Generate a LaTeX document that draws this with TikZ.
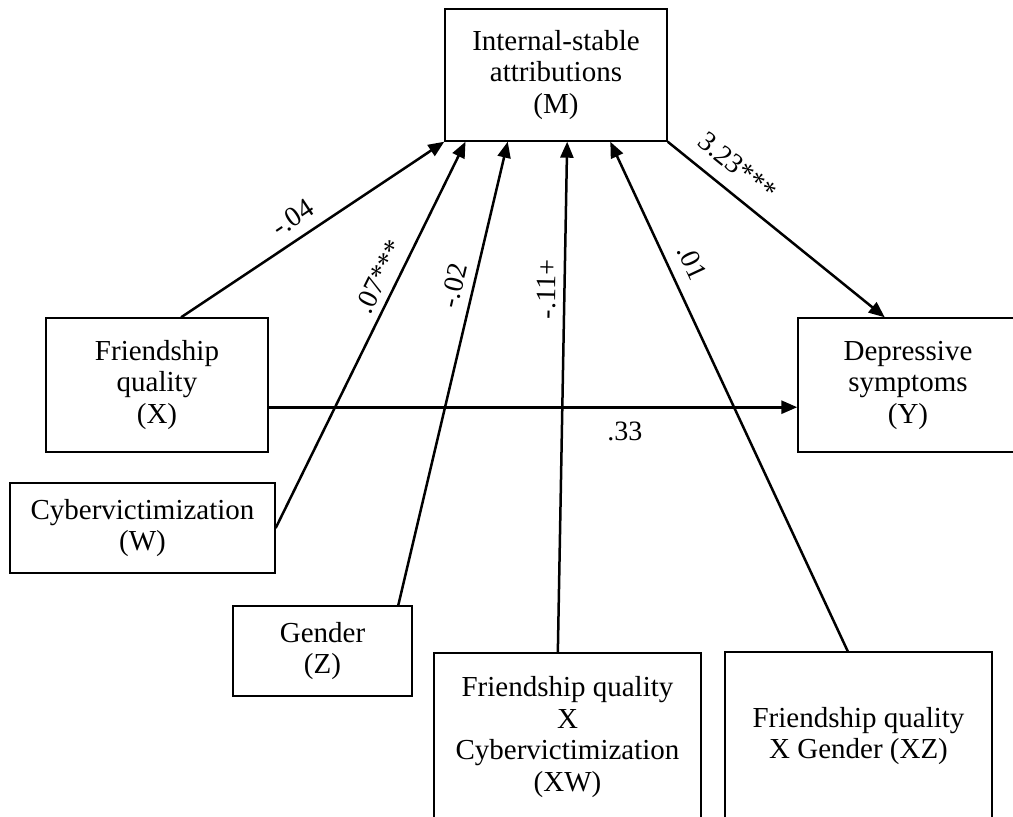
\documentclass[tikz,border=0pt]{standalone}
\usepackage{fontspec}
\setmainfont{Liberation Serif}
\usetikzlibrary{arrows.meta,calc}
\begin{document}
\begin{tikzpicture}[x=1pt,y=-1pt,
  box/.style={draw, line width=1.4pt, rectangle, inner sep=0pt, align=center,
    font=\fontsize{29}{31.5}\selectfont},
  effect/.style={line width=2.5pt, -{Triangle[length=16pt,width=13pt]}},
  coef/.style={font=\fontsize{28}{30}\selectfont, inner sep=0pt, sloped}
]
\useasboundingbox (0,0) rectangle (1013,817);
\clip (0,0) rectangle (1013,817);

% variables
\node[box, minimum width=222pt, minimum height=132pt] (M) at (556,75)
  {Internal-stable\\attributions\\(M)};
\node[box, minimum width=222pt, minimum height=134pt] (X) at (157,385)
  {Friendship\\quality\\(X)};
\node[box, minimum width=220pt, minimum height=134pt] (Y) at (908,385)
  {Depressive\\symptoms\\(Y)};
\node[box, minimum width=265pt, minimum height=90pt] (W) at (142.5,528)
  {Cybervictimization\\(W)};
\node[box, minimum width=179pt, minimum height=90pt] (Z) at (322.5,651)
  {Gender\\(Z)};
\node[box, minimum width=267pt, minimum height=168pt] (XW) at (567.5,737)
  {Friendship quality\\X\\Cybervictimization\\(XW)};
\node[box, minimum width=267pt, minimum height=168pt] (XZ) at (858.5,736)
  {Friendship quality\\X Gender (XZ)};

% paths into the mediator
\draw[effect] ($(X.north west)!0.608!(X.north east)$) -- (M.south west)
  node[coef, pos=0.468, above=10pt] (cXM) {-.04};
\draw[effect] (W.east) -- ($(M.south west)!0.095!(M.south east)$)
  node[coef, pos=0.63, above=7pt] (cWM) {.07***};
\draw[effect] ($(Z.north west)!0.92!(Z.north east)$) -- ($(M.south west)!0.284!(M.south east)$)
  node[coef, pos=0.68, above=9pt] (cZM) {-.02};
\draw[effect] ($(XW.north west)!0.464!(XW.north east)$) -- ($(M.south west)!0.55!(M.south east)$)
  node[coef, pos=0.71, above=7pt] (cXWM) {-.11+};
\draw[effect] ($(XZ.north west)!0.46!(XZ.north east)$) -- ($(M.south west)!0.743!(M.south east)$)
  node[coef, pos=0.744, above=13pt] (cXZM) {.01};

% paths into the outcome
\draw[effect] (M.south east) -- ($(Y.north west)!0.395!(Y.north east)$)
  node[coef, pos=0.25, above=14pt] (cMY) {3.23***};
\coordinate (xout) at ($(X.north east)!0.664!(X.south east)$);
\draw[effect, line width=2.8pt] (xout) -- (xout -| Y.west)
  node[coef, pos=0.674, below=13pt] (cXY) {.33};
\end{tikzpicture}
\end{document}
